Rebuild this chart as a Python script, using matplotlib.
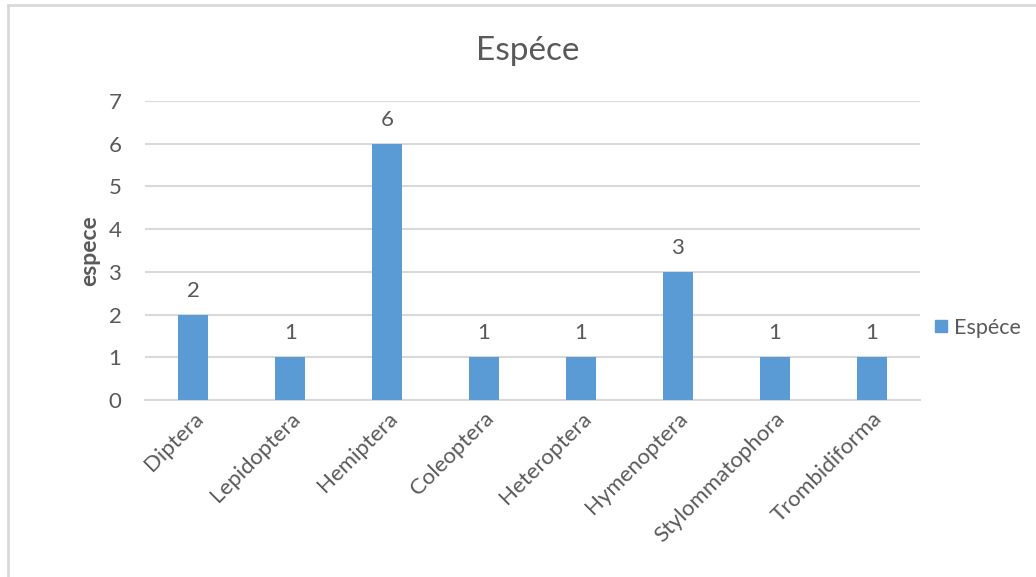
import matplotlib.pyplot as plt
from matplotlib.lines import Line2D

categories = ["Diptera", "Lepidoptera", "Hemiptera", "Coleoptera",
              "Heteroptera", "Hymenoptera", "Stylommatophora", "Trombidiforma"]
values = [2, 1, 6, 1, 1, 3, 1, 1]
series_name = "Espéce"

bar_col = "#5B9BD5"
txt_col = "#595959"
grid_col = "#D9D9D9"

plt.rcParams['font.family'] = ['Lato', 'DejaVu Sans']

W, H = 1036, 577
fig = plt.figure(figsize=(W / 100, H / 100), dpi=100)
ax = fig.add_axes([145 / W, 1 - 400 / H, 775 / W, 299 / H])

x = list(range(len(categories)))
bars = ax.bar(x, values, width=0.31, color=bar_col, zorder=3)
for xi, v in zip(x, values):
    ax.annotate(str(v), (xi, v), xytext=(0, 10), textcoords="offset points",
                ha="center", va="bottom", fontsize=16, color=txt_col)

ax.set_xlim(-0.5, len(categories) - 0.5)
ax.set_ylim(0, 7)
ax.set_yticks(range(0, 8))
ax.yaxis.grid(True, color=grid_col, linewidth=1.5, zorder=0)
ax.tick_params(axis="both", length=0, colors=txt_col, labelsize=16)
ax.tick_params(axis="y", pad=17)
ax.tick_params(axis="x", pad=6)
ax.set_xticks(x)
ax.set_xticklabels(categories, rotation=45, ha="right", rotation_mode="anchor")
for s in ["top", "right", "left"]:
    ax.spines[s].set_visible(False)
ax.spines["bottom"].set_color(grid_col)
ax.spines["bottom"].set_linewidth(1.5)

ax.set_ylabel("espece", fontsize=16.5, fontweight="bold", color=txt_col, labelpad=6)
fig.text(528 / W, 1 - 51 / H, "Espéce", ha="center", va="center",
         fontsize=24, color=txt_col)

handle = Line2D([], [], marker="s", linestyle="none", markersize=9,
                color=bar_col)
fig.legend([handle], [series_name], loc="center left",
           bbox_to_anchor=(922 / W, 1 - 328 / H), frameon=False,
           fontsize=15.5, labelcolor=txt_col, handletextpad=0.1,
           borderaxespad=0, handlelength=1)

# chart border (top and left edges visible)
fig.add_artist(Line2D([8 / W, 1], [1 - 5 / H, 1 - 5 / H], color=grid_col,
                      linewidth=2, transform=fig.transFigure))
fig.add_artist(Line2D([8 / W, 8 / W], [0, 1 - 5 / H], color=grid_col,
                      linewidth=2, transform=fig.transFigure))

fig.savefig("out.png", dpi=100)
